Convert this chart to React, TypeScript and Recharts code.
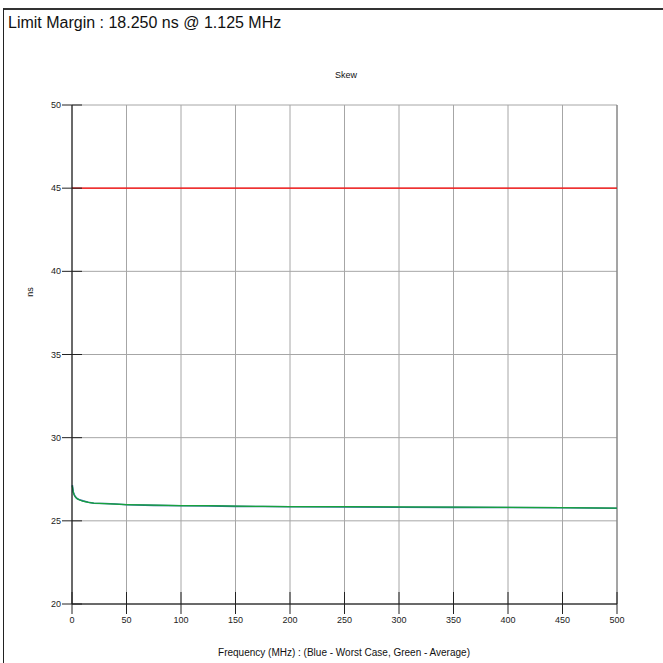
import React from "react";
import {
  LineChart,
  Line,
  XAxis,
  YAxis,
  CartesianGrid,
  ReferenceLine,
} from "recharts";

// Skew vs frequency
const FREQ_MHZ = [
  0.3, 1.125, 2, 3, 4, 5, 7, 10, 15, 20, 30, 40, 50, 75, 100, 125, 150, 175,
  200, 250, 300, 350, 400, 450, 500,
];
const WORST_CASE = [
  27.15, 26.75, 26.58, 26.46, 26.38, 26.33, 26.26, 26.2, 26.12, 26.06, 26.04,
  26.01, 25.97, 25.93, 25.91, 25.9, 25.87, 25.86, 25.85, 25.84, 25.82, 25.81,
  25.8, 25.79, 25.76,
];
const AVERAGE = [
  27.1, 26.72, 26.55, 26.44, 26.37, 26.32, 26.25, 26.18, 26.11, 26.07, 26.03,
  26.0, 25.98, 25.95, 25.92, 25.91, 25.88, 25.87, 25.86, 25.85, 25.84, 25.82,
  25.81, 25.79, 25.77,
];
const LIMIT_NS = 45;

const X_TICKS = [0, 50, 100, 150, 200, 250, 300, 350, 400, 450, 500];
const Y_TICKS = [20, 25, 30, 35, 40, 45, 50];

const FONT = "'Liberation Sans', Arial, sans-serif";
const TICK_SIZE = 10;
const TICK_MARGIN = 1;

const data = FREQ_MHZ.map((f, i) => ({
  freq: f,
  worst: WORST_CASE[i],
  avg: AVERAGE[i],
}));

// y ticks cross the axis: 10px out, 10px in
function YTick(props: any) {
  const { x, y, payload } = props;
  const axisX = x + TICK_MARGIN + TICK_SIZE;
  return (
    <g>
      <line x1={axisX - 10} x2={axisX + 10} y1={y} y2={y} stroke="#222" />
      <text
        x={x}
        y={y}
        dy="0.35em"
        textAnchor="end"
        fontSize={9}
        fontFamily={FONT}
        fill="#222"
      >
        {payload.value}
      </text>
    </g>
  );
}

function XTick(props: any) {
  const { x, y, payload } = props;
  const axisY = y - TICK_MARGIN - TICK_SIZE - 1;
  return (
    <g>
      <line x1={x} x2={x} y1={axisY - 11} y2={axisY + 11} stroke="#222" />
      <text
        x={x}
        y={y + 2}
        dy="0.71em"
        textAnchor="middle"
        fontSize={9}
        fontFamily={FONT}
        fill="#222"
      >
        {payload.value}
      </text>
    </g>
  );
}

export default function App() {
  return (
    <div
      style={{
        position: "absolute",
        left: 0,
        top: 0,
        width: 663,
        height: 663,
        overflow: "hidden",
        background: "#fff",
        fontFamily: FONT,
        color: "#111",
      }}
    >
      <div
        style={{
          position: "absolute",
          left: 3,
          top: 8,
          width: 700,
          height: 700,
          borderLeft: "1px solid #222",
          borderTop: "2px solid #333",
        }}
      />
      <div
        style={{
          position: "absolute",
          left: 8,
          top: 15,
          fontSize: 16,
          lineHeight: "16px",
          whiteSpace: "nowrap",
        }}
      >
        Limit Margin : 18.250 ns @ 1.125 MHz
      </div>
      <div
        style={{
          position: "absolute",
          left: 346,
          top: 70,
          transform: "translateX(-50%)",
          fontSize: 9,
          lineHeight: "10px",
        }}
      >
        Skew
      </div>
      <div
        style={{
          position: "absolute",
          left: 30,
          top: 292,
          transform: "translate(-50%, -50%) rotate(-90deg)",
          fontSize: 9,
          lineHeight: "10px",
        }}
      >
        ns
      </div>
      <div
        style={{
          position: "absolute",
          left: 344,
          top: 647,
          transform: "translateX(-50%)",
          fontSize: 10,
          lineHeight: "11px",
          whiteSpace: "nowrap",
        }}
      >
        Frequency (MHz) : (Blue - Worst Case, Green - Average)
      </div>
      <div style={{ position: "absolute", left: 0, top: 0 }}>
        <LineChart
          width={663}
          height={663}
          data={data}
          margin={{ top: 105, right: 46, left: 32, bottom: 29 }}
        >
          <CartesianGrid stroke="#a6a6a6" />
          <XAxis
            dataKey="freq"
            type="number"
            domain={[0, 500]}
            ticks={X_TICKS}
            height={30}
            tickSize={TICK_SIZE}
            tickMargin={TICK_MARGIN}
            tickLine={false}
            axisLine={{ stroke: "#000" }}
            tick={<XTick />}
            interval={0}
          />
          <YAxis
            type="number"
            domain={[20, 50]}
            ticks={Y_TICKS}
            width={40}
            tickSize={TICK_SIZE}
            tickMargin={TICK_MARGIN}
            tickLine={false}
            axisLine={{ stroke: "#000" }}
            tick={<YTick />}
            interval={0}
          />
          <ReferenceLine x={500} stroke="#777" />
          <ReferenceLine y={LIMIT_NS} stroke="#ff0000" strokeWidth={1.2} />
          <Line
            dataKey="worst"
            stroke="#2f6f9f"
            strokeWidth={1.6}
            dot={false}
            isAnimationActive={false}
          />
          <Line
            dataKey="avg"
            stroke="#17a23c"
            strokeWidth={1.2}
            dot={false}
            isAnimationActive={false}
          />
        </LineChart>
      </div>
    </div>
  );
}
